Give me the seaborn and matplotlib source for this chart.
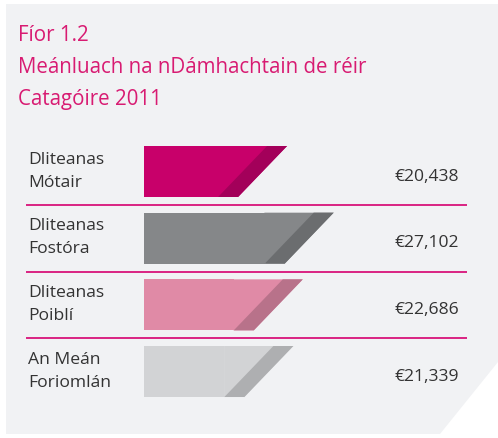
import matplotlib
matplotlib.use("Agg")
import matplotlib.pyplot as plt
from matplotlib.patches import Polygon
import seaborn as sns

# data
categories = ["Dliteanas\nMótair", "Dliteanas\nFostóra", "Dliteanas\nPoiblí", "An Meán\nForiomlán"]
values = [20438, 27102, 22686, 21339]
value_labels = ["€20,438", "€27,102", "€22,686", "€21,339"]
main_colors = ["#c8006a", "#858789", "#e08aa6", "#d2d3d5"]
dark_colors = ["#a3005a", "#6b6d6f", "#b8728a", "#aeafb1"]
title_lines = ["Fíor 1.2", "Meánluach na nDámhachtain de réir", "Catagóire 2011"]

sns.set_theme(style="white")
plt.rcParams["font.family"] = ["Open Sans", "DejaVu Sans"]

W, H = 498, 439
fig = plt.figure(figsize=(W / 100, H / 100), dpi=100, facecolor="white")

# gray panel with cut corner (figure coords from pixels), drawn below the axes
panel_px = [(6, 5), (498, 5), (498, 363), (440, 435), (6, 435)]
fig.patches.append(Polygon([(x / W, 1 - y / H) for x, y in panel_px],
                           closed=True, transform=fig.transFigure,
                           facecolor="#f1f2f4", edgecolor="none", zorder=-1))

ax = fig.add_axes([0, 0, 1, 1])
ax.patch.set_alpha(0)

# scale: 0.007 px per euro, bars start at x = 144 px
px_per_eur = 0.007
x0 = 144
slant = 49 / px_per_eur
strip = 20 / px_per_eur
bar_h = 0.765

rect = [v - slant - strip for v in values]
sns.barplot(x=rect, y=categories, hue=categories, palette=main_colors,
            saturation=1, orient="h", width=bar_h, linewidth=0,
            legend=False, ax=ax)

for i, v in enumerate(values):
    top, bot = i - bar_h / 2, i + bar_h / 2
    r = rect[i] - 40
    # slanted end in the main colour, then the darker strip on top
    ax.fill([r, v, v - slant, r], [top, top, bot, bot],
            color=main_colors[i], lw=0)
    ax.fill([v - strip, v, v - slant, v - slant - strip],
            [top, top, bot, bot], color=dark_colors[i], lw=0)
    ax.text((28 - x0) / px_per_eur, i - 0.02, categories[i], ha="left",
            va="center", fontsize=12.6, color="#333333", linespacing=1.6)
    ax.text((459 - x0) / px_per_eur, i + 0.12, value_labels[i], ha="right",
            va="baseline", fontsize=12.6, color="#333333")

# separators
ax.hlines([0.5, 1.5, 2.5], (26 - x0) / px_per_eur, (467 - x0) / px_per_eur,
          color="#d6006f", lw=1.2)

ax.set_xlim(-x0 / px_per_eur, (W - x0) / px_per_eur)
row0, step = 172.5, 66.67
ax.set_ylim((H - row0) / step, -row0 / step)
ax.set_axis_off()

for line, base in zip(title_lines, [41, 73, 105]):
    fig.text(18 / W, 1 - base / H, line, ha="left", va="baseline",
             fontsize=14.8, color="#d81b72")

fig.savefig("out.png", dpi=100, facecolor="white")
